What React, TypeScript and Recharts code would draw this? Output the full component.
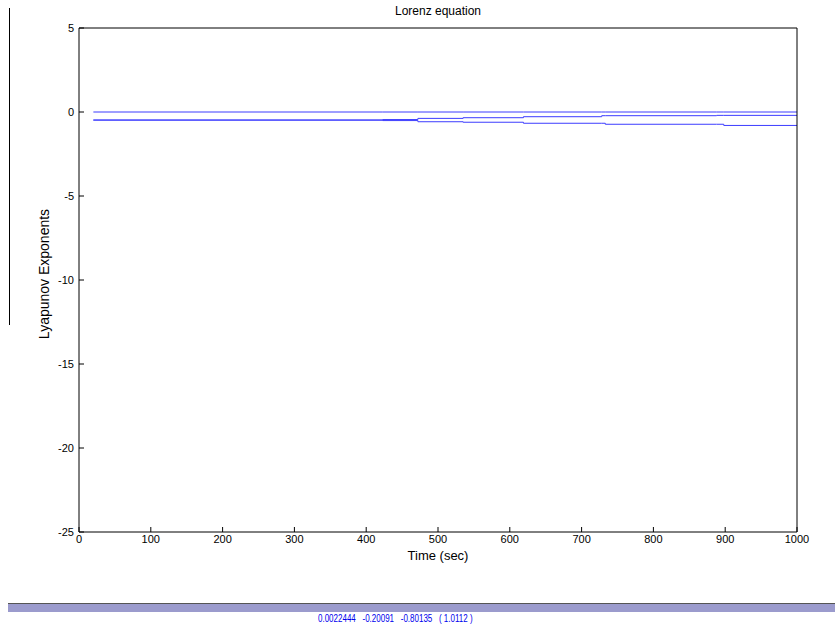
import { LineChart, Line, XAxis, YAxis } from 'recharts'

// sampled times (sec) where the exponent estimates step
const times = [20, 423, 472, 535, 619, 728, 733, 888, 898, 1000]
const lambda1 = [0, 0, 0, 0, 0, 0, 0, 0, 0, 0.0022]
const lambda2 = [-0.48, -0.45, -0.38, -0.34, -0.28, -0.22, -0.22, -0.2, -0.2, -0.2]
const lambda3 = [-0.48, -0.51, -0.58, -0.61, -0.67, -0.67, -0.73, -0.73, -0.8, -0.8]

const xTicks = [0, 100, 200, 300, 400, 500, 600, 700, 800, 900, 1000]
const yTicks = [-25, -20, -15, -10, -5, 0, 5]
const finalValues = ['0.0022444', '-0.20091', '-0.80135', '( 1.0112 )']

const font = 'Arial, "Liberation Sans", sans-serif'

export default function App() {
  const chartData = times.map((t, i) => ({
    t,
    l1: lambda1[i],
    l2: lambda2[i],
    l3: lambda3[i],
  }))

  const tickStyle = { fontSize: 11, fill: '#000', fontFamily: font }

  return (
    <div style={{ position: 'absolute', left: 0, top: 0, width: 835, height: 641, background: '#fff', fontFamily: font }}>
      <LineChart width={835} height={641} data={chartData} margin={{ top: 8, right: 18, bottom: 79, left: 39 }}>
        <XAxis
          dataKey="t"
          type="number"
          domain={[0, 1000]}
          ticks={xTicks}
          height={30}
          tickSize={-5}
          tickMargin={8}
          stroke="#000"
          tick={tickStyle}
          interval={0}
        />
        <XAxis
          xAxisId="top"
          orientation="top"
          type="number"
          domain={[0, 1000]}
          ticks={xTicks}
          height={20}
          tickSize={-5}
          tick={false}
          stroke="#000"
        />
        <YAxis
          type="number"
          domain={[-25, 5]}
          ticks={yTicks}
          width={40}
          tickSize={-5}
          tickMargin={10}
          stroke="#000"
          tick={tickStyle}
          interval={0}
        />
        <YAxis
          yAxisId="right"
          orientation="right"
          type="number"
          domain={[-25, 5]}
          ticks={yTicks}
          width={20}
          tickSize={-5}
          tick={false}
          stroke="#000"
        />
        <Line type="stepAfter" dataKey="l1" stroke="#3c3cff" strokeWidth={1} dot={false} isAnimationActive={false} />
        <Line type="stepAfter" dataKey="l2" stroke="#3c3cff" strokeWidth={1} dot={false} isAnimationActive={false} />
        <Line type="stepAfter" dataKey="l3" stroke="#3c3cff" strokeWidth={1} dot={false} isAnimationActive={false} />
      </LineChart>

      <div style={{ position: 'absolute', left: 0, top: 4, width: 876, textAlign: 'center', fontSize: 12 }}>
        Lorenz equation
      </div>
      <div style={{ position: 'absolute', left: 0, top: 548, width: 876, textAlign: 'center', fontSize: 13 }}>
        Time (sec)
      </div>
      <div
        style={{
          position: 'absolute',
          left: 44,
          top: 274,
          fontSize: 14,
          whiteSpace: 'nowrap',
          transform: 'translate(-50%, -50%) rotate(-90deg)',
        }}
      >
        Lyapunov Exponents
      </div>

      <div style={{ position: 'absolute', left: 9, top: 8, width: 1, height: 317, background: '#000' }} />

      <div style={{ position: 'absolute', left: 8, top: 603, width: 827, height: 1, background: '#555' }} />
      <div style={{ position: 'absolute', left: 8, top: 604, width: 827, height: 8, background: '#9b9bcd' }} />
      <div
        style={{
          position: 'absolute',
          left: 318,
          top: 613,
          fontSize: 10,
          color: '#0000ee',
          whiteSpace: 'pre',
          transform: 'scaleX(0.8)',
          transformOrigin: 'left center',
          fontFamily: '"Liberation Sans Narrow", Arial, sans-serif',
        }}
      >
        {finalValues.join('   ')}
      </div>
    </div>
  )
}
